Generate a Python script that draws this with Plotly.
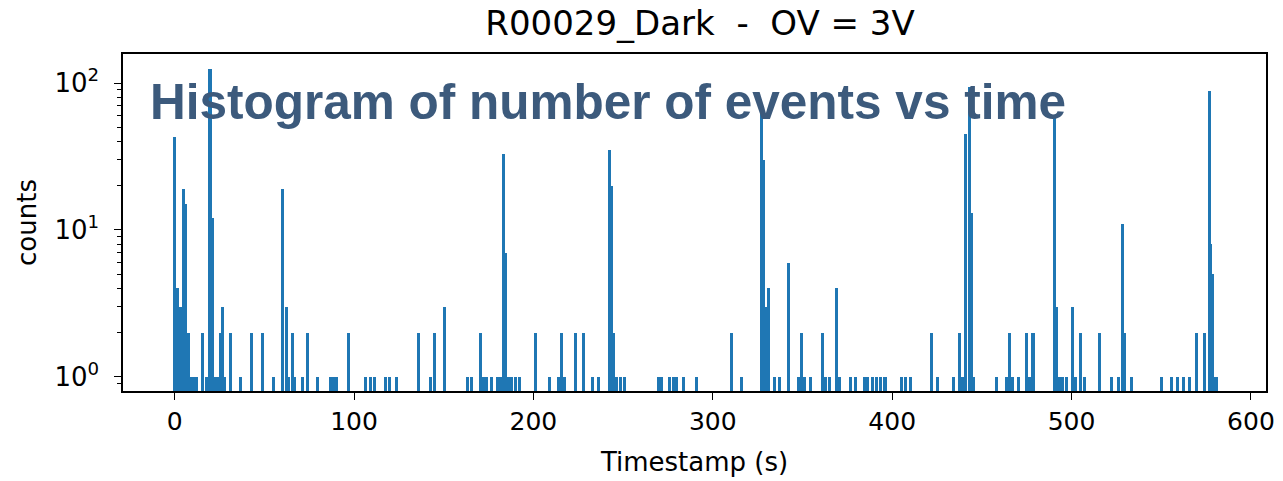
import plotly.graph_objects as go

# Histogram bins (bin position in s) and counts
times = [
    0.0, 1.5, 3.0, 5.0, 6.0, 7.5, 9.0, 10.5, 12.0, 15.3, 18.0, 19.7, 20.8, 22.5, 24.0,
    25.5, 26.7, 28.0, 31.3, 36.7, 43.0, 49.2, 55.3, 60.3, 62.3, 63.5, 65.5, 67.0, 71.0,
    74.0, 79.8, 87.0, 88.5, 90.0, 96.8,
    106.5, 109.0, 111.5, 117.5, 120.0, 123.5, 135.9, 142.5, 144.9, 150.2, 163.0, 165.5,
    170.3, 172.0, 174.0, 176.5, 180.0, 181.5, 183.4, 184.5, 186.0, 188.0, 190.0, 192.5,
    200.9, 208.8, 214.0, 215.7, 217.5, 223.6, 228.0, 232.8, 236.5, 242.4, 243.4, 244.8,
    246.5, 248.5, 251.0, 269.5, 271.5, 276.0, 278.0, 280.0, 283.5, 290.7,
    310.6, 316.2, 327.2, 328.2, 329.2, 330.9, 334.6, 337.0, 342.0, 348.0, 349.7, 351.0,
    354.5, 361.4, 363.0, 365.0, 368.7, 370.5, 377.0, 379.5, 384.5, 386.5, 389.0, 391.0,
    393.5, 396.0,
    405.0, 407.5, 410.0, 421.7, 425.4, 434.2, 437.5, 439.0, 440.7, 443.1, 444.2, 445.5,
    458.2, 463.5, 465.2, 467.0, 470.2, 474.8, 476.5, 478.5, 490.5, 491.5, 493.0, 495.0,
    497.0, 500.4, 502.0, 505.1, 507.0,
    515.6, 522.3, 526.3, 528.6, 529.7, 533.3, 550.3, 555.8, 559.0, 562.3, 565.6, 569.7,
    574.3, 576.7, 577.7, 578.7, 580.0, 581.0,
]
counts = [
    43, 4, 3, 19, 15, 2, 1, 1, 1, 2, 1, 125, 12, 1, 1,
    2, 3, 1, 2, 1, 2, 2, 1, 19, 3, 1, 2, 1, 1,
    2, 1, 1, 1, 1, 2,
    1, 1, 1, 1, 1, 1, 2, 1, 2, 3, 1, 1,
    2, 1, 1, 1, 1, 1, 33, 7, 1, 1, 1, 1,
    2, 1, 1, 2, 1, 2, 2, 1, 1, 35, 20, 2,
    1, 1, 1, 1, 1, 1, 1, 1, 1, 1,
    2, 1, 62, 30, 3, 4, 1, 1, 6, 1, 2, 1,
    1, 2, 1, 1, 4, 1, 1, 1, 1, 1, 1, 1,
    1, 1,
    1, 1, 1, 2, 1, 1, 2, 1, 45, 94, 13, 1,
    1, 1, 2, 1, 1, 2, 1, 2, 59, 3, 1, 1,
    1, 3, 1, 2, 1,
    2, 1, 1, 11, 2, 1, 1, 1, 1, 1, 1, 2,
    2, 89, 8, 5, 1, 1,
]

x_ticks = [0, 100, 200, 300, 400, 500, 600]
y_ticks = [1, 10, 100]
y_tick_text = ["10<sup>0</sup>", "10<sup>1</sup>", "10<sup>2</sup>"]
y_minor = [0.8, 0.9, 2, 3, 4, 5, 6, 7, 8, 9, 20, 30, 40, 50, 60, 70, 80, 90]

title_text = "R00029_Dark  -  OV = 3V"
overlay_text = "Histogram of number of events vs time"

fig = go.Figure()
fig.add_trace(go.Bar(
    x=times, y=counts, width=1.7,
    marker=dict(color="#1f77b4", line=dict(width=0)),
))

font_family = "DejaVu Sans"
fig.update_layout(
    width=1283, height=481,
    margin=dict(l=123, r=8, t=54, b=90),
    paper_bgcolor="white", plot_bgcolor="white",
    barmode="overlay", bargap=0, showlegend=False,
    font=dict(family=font_family, color="black", size=25),
    title=dict(text=title_text, x=(700 / 1283), xanchor="center", y=0.952, yanchor="middle",
               font=dict(family=font_family, size=34, color="black")),
)
fig.update_xaxes(
    range=[-28.8, 608.4], tickmode="array", tickvals=x_ticks,
    ticks="outside", ticklen=7, tickwidth=1.3, tickcolor="black",
    showline=True, linecolor="black", linewidth=1.5, mirror=True,
    showgrid=False, zeroline=False,
    tickfont=dict(family=font_family, size=25),
    title=dict(text="Timestamp (s)", font=dict(family=font_family, size=26), standoff=18),
)
fig.update_yaxes(
    type="log", range=[-0.096, 2.198], tickmode="array", tickvals=y_ticks, ticktext=y_tick_text,
    ticks="outside", ticklen=7, tickwidth=1.3, tickcolor="black",
    minor=dict(tickmode="array", tickvals=y_minor, ticks="outside", ticklen=4, tickwidth=1, tickcolor="black"),
    showline=True, linecolor="black", linewidth=1.5, mirror=True,
    showgrid=False, zeroline=False, ticklabelstandoff=10,
    tickfont=dict(family=font_family, size=26),
    title=dict(text="counts", font=dict(family=font_family, size=26), standoff=10),
)
fig.add_annotation(
    text="<b>" + overlay_text + "</b>", xref="paper", yref="paper",
    x=(148 - 123) / 1152, y=(391 - 101) / 337, xanchor="left", yanchor="middle",
    showarrow=False, font=dict(family="Liberation Sans", size=49.5, color="#3c5a7c"),
)
fig.write_html("out.html")
